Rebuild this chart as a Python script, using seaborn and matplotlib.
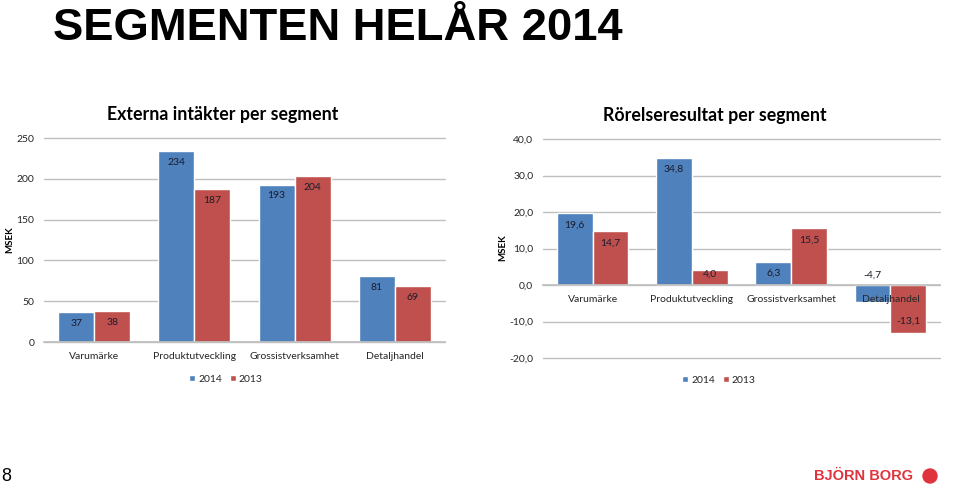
import pandas as pd
import numpy as np
import matplotlib
matplotlib.use("Agg")
import matplotlib.pyplot as plt
import seaborn as sns
from matplotlib.ticker import FuncFormatter
from matplotlib.patches import Ellipse

# data
segments = ["Varumärke", "Produktutveckling", "Grossistverksamhet", "Detaljhandel"]
years = ["2014", "2013"]
intakter_2014 = [37, 234, 193, 81]
intakter_2013 = [38, 187, 204, 69]
resultat_2014 = [19.6, 34.8, 6.3, -4.7]
resultat_2013 = [14.7, 4.0, 15.5, -13.1]

colors = {"2014": "#4F81BD", "2013": "#C0504D"}
GRID = "#BFBFBF"
TXT = "#262626"

sns.set_theme(style="white")
plt.rcParams["font.family"] = ["Lato", "DejaVu Sans"]


def long_df(v2014, v2013):
    """melt two series into long form for seaborn"""
    return pd.DataFrame({
        "segment": segments * 2,
        "year":    ["2014"] * len(segments) + ["2013"] * len(segments),
        "value":   list(v2014) + list(v2013),
    })


def comma(v, decimals):
    return f"{v:.{decimals}f}".replace(".", ",")


def draw_panel(ax, df, title, title_x, decimals, ylim, step, legend_xy):
    sns.barplot(
        data=df, x="segment", y="value", hue="year",
        hue_order=years, palette=colors, width=0.72,
        errorbar=None, saturation=1, ax=ax,
    )
    ax.set_ylim(*ylim)
    ax.set_xlim(-0.5, 3.5)
    ax.set_yticks(np.arange(ylim[0], ylim[1] + step / 2, step))
    ax.yaxis.set_major_formatter(FuncFormatter(lambda v, _: comma(v, decimals)))
    ax.grid(axis="y", color=GRID, linewidth=1)
    for gl in ax.get_ygridlines():
        gl.set_clip_on(False)
    ax.set_axisbelow(True)
    ax.xaxis.set_zorder(3)
    for s in ["left", "right", "top"]:
        ax.spines[s].set_visible(False)
    ax.spines["bottom"].set_position(("data", 0))
    ax.spines["bottom"].set_color(GRID)
    ax.tick_params(axis="both", length=0, labelsize=7.5, colors=TXT)
    ax.tick_params(axis="y", pad=7)
    ax.tick_params(axis="x", pad=7)
    ax.set_xlabel("")
    ax.set_ylabel("")
    ax.set_title(title, x=title_x, fontsize=12.8, fontweight="bold",
                 color="black", pad=13)

    # value labels inside the bar ends
    series = [df[df["year"] == y]["value"].tolist() for y in years]
    for cont, vals in zip(ax.containers, series):
        texts = ax.bar_label(cont, labels=[comma(v, decimals) for v in vals],
                             padding=-11.5, fontsize=7.5, color="#1b1b2b")
        for t, v in zip(texts, vals):
            if -6 < v < 0:
                # small negative bar: label sits above the zero line
                t.xyann = (0, 23)
            elif 0 < v < 5:
                # short bar: keep label inside, above the axis
                t.xyann = (0, -6)

    handles, labels = ax.get_legend_handles_labels()
    ax.legend(handles, labels, loc="center", bbox_to_anchor=legend_xy,
              bbox_transform=ax.figure.transFigure, ncol=2, frameon=False,
              fontsize=7.5, handlelength=0.55, handleheight=0.55,
              handletextpad=0.3, columnspacing=0.8)


fig = plt.figure(figsize=(9.6, 4.86), dpi=100)

ax1 = fig.add_axes([44 / 960, 1 - 342 / 486, 401 / 960, 204 / 486])
draw_panel(ax1, long_df(intakter_2014, intakter_2013),
           "Externa intäkter per segment", 0.446, 0, (0, 250), 50,
           (226 / 960, 1 - 379 / 486))

ax2 = fig.add_axes([543 / 960, 1 - 358 / 486, 397 / 960, 219 / 486])
draw_panel(ax2, long_df(resultat_2014, resultat_2013),
           "Rörelseresultat per segment", 0.433, 1, (-20, 40), 10,
           (719 / 960, 1 - 380 / 486))

# y axis captions
fig.text(10 / 960, 1 - 240 / 486, "MSEK", rotation=90, ha="center", va="center",
         fontsize=7, fontweight="bold", color="black")
fig.text(503 / 960, 1 - 248 / 486, "MSEK", rotation=90, ha="center", va="center",
         fontsize=7, fontweight="bold", color="black")

# slide furniture
fig.text(53 / 960, 1 - 29 / 486, "SEGMENTEN HELÅR 2014", ha="left", va="center",
         fontsize=32.7, fontweight="bold", family="Liberation Sans", color="black")
fig.text(1 / 960, 1 - 476 / 486, "8", ha="left", va="center",
         fontsize=13, family="Liberation Sans", color="black")
fig.text(913 / 960, 1 - 476 / 486, "BJÖRN BORG", ha="right", va="center",
         fontsize=10.5, fontweight="bold", family="Liberation Sans", color="#E0333C")
logo = Ellipse((930 / 960, 1 - 476 / 486), 14 / 960, 14 / 486,
               transform=fig.transFigure, color="#E0333C")
fig.patches.append(logo)

fig.savefig("out.png", dpi=100, facecolor="white")
plt.close(fig)
